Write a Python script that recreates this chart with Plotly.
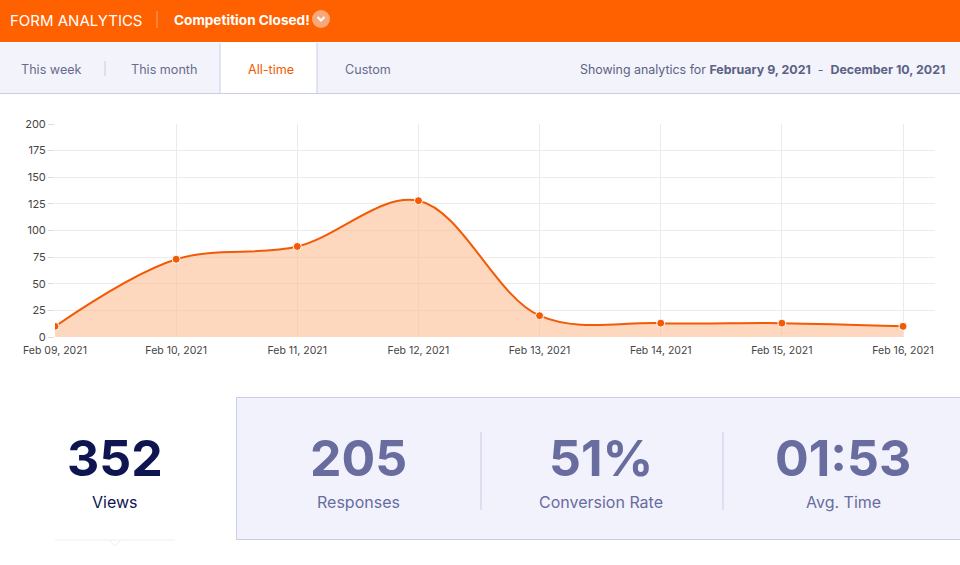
import plotly.graph_objects as go

W, H = 960, 565

# chart data
dates = ["2021-02-09", "2021-02-10", "2021-02-11", "2021-02-12",
         "2021-02-13", "2021-02-14", "2021-02-15", "2021-02-16"]
views = [10, 73, 85, 128, 20, 13, 13, 10]
y_ticks = [0, 25, 50, 75, 100, 125, 150, 175, 200]

# page texts
tabs = ["This week", "This month", "All-time", "Custom"]
active_tab = "All-time"
date_from = "February 9, 2021"
date_to = "December 10, 2021"
stat_values = ["352", "205", "51%", "01:53"]
stat_labels = ["Views", "Responses", "Conversion Rate", "Avg. Time"]

ORANGE = "#FF6100"
LINE = "#F25A05"
FILL = "rgba(252,190,150,0.62)"
TAB_BG = "#F3F3FB"
BORDER = "#C9CDE6"
MUTED = "#666C8E"
STAT = "#686C9E"
NAVY = "#0E1551"
FONT = "Inter"


def px(x):
    return x / W


def py(y):
    return 1 - y / H


def rect(x0, y0, x1, y1, fill, line_color=None, width=1):
    return dict(type="rect", xref="paper", yref="paper",
                x0=px(x0), x1=px(x1), y0=py(y1), y1=py(y0),
                fillcolor=fill, layer="below",
                line=dict(color=line_color or fill, width=width if line_color else 0))


def hline(x0, x1, y, color, width=1):
    return dict(type="line", xref="paper", yref="paper",
                x0=px(x0), x1=px(x1), y0=py(y), y1=py(y),
                line=dict(color=color, width=width))


def vline(x, y0, y1, color, width=1):
    return dict(type="line", xref="paper", yref="paper",
                x0=px(x), x1=px(x), y0=py(y0), y1=py(y1),
                line=dict(color=color, width=width))


def text(x, y, s, size, color, anchor="left", bold=False):
    return dict(xref="paper", yref="paper", x=px(x), y=py(y), text=f"<b>{s}</b>" if bold else s,
                showarrow=False, xanchor=anchor, yanchor="middle",
                font=dict(family=FONT, size=size, color=color))


fig = go.Figure()
fig.add_trace(go.Scatter(
    x=dates, y=views, mode="lines+markers",
    line=dict(color=LINE, width=2, shape="spline", smoothing=1.0),
    marker=dict(size=8, color=LINE, line=dict(color="white", width=1)),
    fill="tozeroy", fillcolor=FILL, hoverinfo="x+y",
))

shapes = []
# header
shapes.append(rect(0, 0, W, 42, ORANGE))
shapes.append(vline(157, 11, 28, "#FFA46B", 1))
shapes.append(dict(type="circle", xref="paper", yref="paper",
                   x0=px(312), x1=px(330), y0=py(28), y1=py(10),
                   fillcolor="#F8A87A", line=dict(width=0)))
shapes.append(dict(type="path", xref="paper", yref="paper",
                   path=f"M {px(317.5)} {py(17)} L {px(321)} {py(20.5)} L {px(324.5)} {py(17)}",
                   line=dict(color="white", width=2)))
# tab bar
shapes.append(rect(0, 43, W, 93, TAB_BG))
shapes.append(hline(0, W, 93.5, BORDER))
shapes.append(rect(220, 43, 317, 94, "white"))
shapes.append(vline(220, 43, 93, BORDER))
shapes.append(vline(317, 43, 93, BORDER))
shapes.append(vline(105, 61, 76, BORDER))
# stats panel
shapes.append(rect(236.5, 397.5, W + 5, 539.5, "#F2F2FC", BORDER, 1))
shapes.append(vline(481, 432, 510, BORDER))
shapes.append(vline(723, 432, 510, BORDER))
shapes.append(hline(55, 175, 540, "#EEEEF7", 1))
shapes.append(dict(type="path", xref="paper", yref="paper",
                   path=f"M {px(109)} {py(540)} L {px(115)} {py(546)} L {px(121)} {py(540)}",
                   line=dict(color="#EEEEF7", width=1)))

ann = []
ann.append(text(8, 20, "FORM ANALYTICS", 15, "white"))
ann.append(text(172, 20, "Competition Closed!", 13.6, "white", bold=True))
tab_x = [19, 129, 246, 343]
for t, x in zip(tabs, tab_x):
    ann.append(text(x, 69, t, 12.6, "#F05A00" if t == active_tab else MUTED))
ann.append(text(947, 70, f"Showing analytics for <b>{date_from}</b>  -  <b>{date_to}</b>",
                12.4, "#5C6285", anchor="right"))

stat_x = [115, 358, 601, 843]
for i, (v, lab, x) in enumerate(zip(stat_values, stat_labels, stat_x)):
    col = NAVY if i == 0 else STAT
    ann.append(text(x, 458, v, 50, col, anchor="center", bold=True))
    ann.append(text(x, 502, lab, 16, col, anchor="center"))

fig.update_layout(
    width=W, height=H,
    margin=dict(l=0, r=0, t=0, b=0, pad=0),
    paper_bgcolor="white", plot_bgcolor="white",
    showlegend=False,
    shapes=shapes, annotations=ann,
    font=dict(family=FONT),
    xaxis=dict(
        domain=[px(55), px(935)],
        range=["2021-02-09", "2021-02-16 06:20"],
        tickvals=dates, tickformat="%b %d, %Y",
        tickfont=dict(size=10.5, color="#444444"),
        showgrid=True, gridcolor="#EBEBEB", gridwidth=1,
        zeroline=False, showline=False,
        ticks="outside", ticklen=3, tickcolor="rgba(0,0,0,0)",
        automargin=False,
    ),
    yaxis=dict(
        domain=[py(337), py(124)],
        range=[0, 200],
        tickvals=y_ticks,
        tickfont=dict(size=11, color="#444444"),
        showgrid=True, gridcolor="#EBEBEB", gridwidth=1,
        zeroline=False, showline=False,
        ticks="outside", ticklen=6, tickcolor="#DDDDDD",
        automargin=False,
    ),
)

# drop the page's default body margin so the figure sits at the window corner
fig.write_html("out.html", config={"displayModeBar": False},
               post_script="document.body.style.margin='0';")
